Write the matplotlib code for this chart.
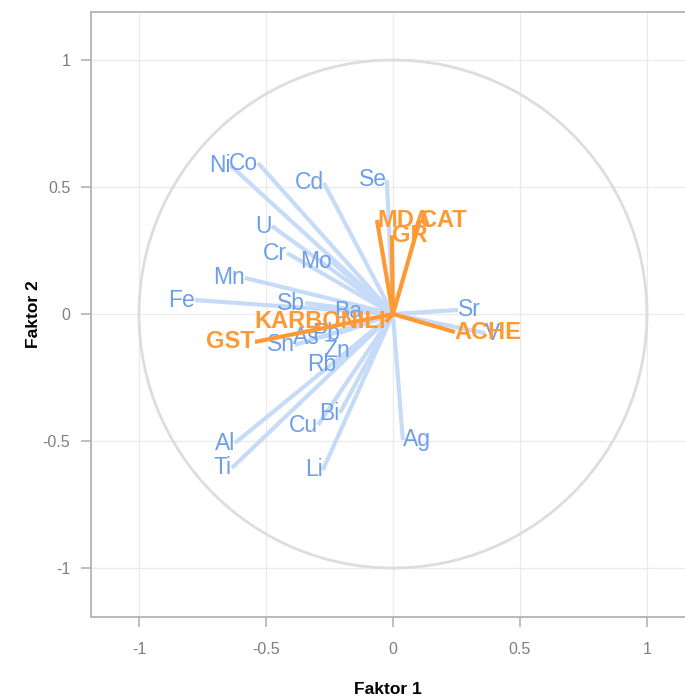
import numpy as np
import matplotlib.pyplot as plt
from matplotlib.patches import Circle

plt.rcParams['font.family'] = ['Liberation Sans', 'DejaVu Sans']

# element loadings (blue)
elem_names = ['Ni', 'Co', 'Cd', 'Se', 'U', 'Cr', 'Mo', 'Mn', 'Fe', 'Sb', 'Ba',
              'As', 'Pb', 'Sn', 'Zn', 'Rb', 'Bi', 'Cu', 'Al', 'Ti', 'Li', 'Ag',
              'Sr', 'V']
elem_f1 = [-0.640, -0.531, -0.272, -0.024, -0.476, -0.417, -0.240, -0.583,
           -0.780, -0.346, -0.122, -0.287, -0.209, -0.386, -0.169, -0.224,
           -0.209, -0.295, -0.622, -0.634, -0.276, 0.039, 0.256, 0.362]
elem_f2 = [0.585, 0.594, 0.516, 0.528, 0.346, 0.240, 0.205, 0.142,
           0.055, 0.043, 0.008, -0.094, -0.075, -0.122, -0.142, -0.200,
           -0.390, -0.437, -0.508, -0.606, -0.614, -0.496, 0.016, -0.075]

# biomarker loadings (orange)
bio_names = ['MDA', 'GR', 'CAT', 'ACHE', 'GST', 'KARBONILI']
bio_f1 = [-0.063, -0.004, 0.106, 0.244, -0.543, -0.028]
bio_f2 = [0.370, 0.310, 0.368, -0.071, -0.110, -0.031]
bio_ha = ['left', 'left', 'left', 'left', 'right', 'right']

blue_line = '#c6dbf7'
blue_text = '#6d9eeb'
orange = '#ff9933'

fig = plt.figure(figsize=(6.85, 6.98), dpi=100)
ax = fig.add_axes([0.1328, 0.116, 0.8672, 0.8668])

ax.add_patch(Circle((0, 0), 1, fill=False, edgecolor='#dddddd', lw=2, zorder=1))

for name, x, y in zip(elem_names, elem_f1, elem_f2):
    ax.plot([0, x], [0, y], color=blue_line, lw=3, solid_capstyle='butt', zorder=2)
    ha = 'left' if x > 0 else 'right'
    ax.text(x, y, name, color=blue_text, fontsize=16.5, ha=ha, va='center', zorder=3)

for name, x, y, ha in zip(bio_names, bio_f1, bio_f2, bio_ha):
    ax.plot([0, x], [0, y], color=orange, lw=3, solid_capstyle='butt', zorder=4)
    ax.text(x, y, name, color=orange, fontsize=17, fontweight='bold',
            ha=ha, va='center', zorder=5)

ax.set_xlim(-1.189, 1.15)
ax.set_ylim(-1.193, 1.189)
ticks = [-1, -0.5, 0, 0.5, 1]
tick_labels = ['-1', '-0.5', '0', '0.5', '1']
ax.set_xticks(ticks, tick_labels)
ax.set_yticks(ticks, tick_labels)
ax.grid(color='#ebebeb', lw=1)
ax.set_axisbelow(True)
ax.tick_params(colors='#b3b3b3', labelcolor='#7f7f7f', labelsize=11.5,
               length=7, width=1.2)
ax.tick_params(axis='x', pad=11)
ax.tick_params(axis='y', pad=8)

for side in ['left', 'bottom', 'top']:
    ax.spines[side].set_color('#b3b3b3')
    ax.spines[side].set_linewidth(1.3)
ax.spines['right'].set_visible(False)

ax.set_xlabel('Faktor 1', fontsize=12.5, fontweight='bold', labelpad=18)
ax.set_ylabel('Faktor 2', fontsize=12.5, fontweight='bold', labelpad=1)

fig.savefig('out.png', dpi=100)
